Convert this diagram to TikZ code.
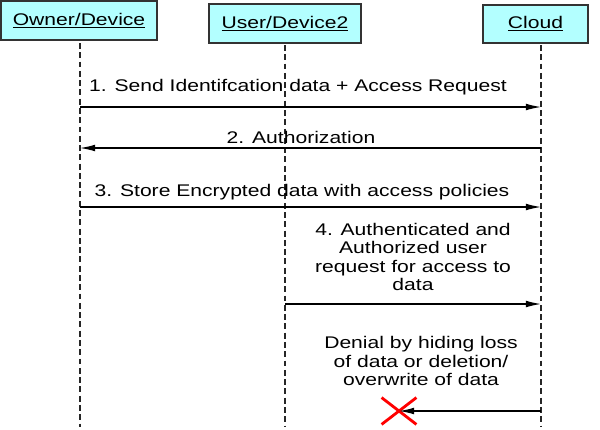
\documentclass[tikz,border=0pt]{standalone}
\usepackage{fontspec}
\setmainfont{Liberation Sans}[FakeStretch=1.25]
\usepackage[HTML]{xcolor}
\usetikzlibrary{positioning, arrows.meta, shapes.misc}
\definecolor{boxcyan}{HTML}{B3FFFF}

\begin{document}
\begin{tikzpicture}[x=0.025cm, y=-0.025cm,
  actor/.style={draw=black!80, fill=boxcyan, line width=1.4pt, minimum height=0.97cm, inner sep=0pt, font=\fontsize{12}{13}\selectfont},
  lifeline/.style={line width=1.8pt, black!85, dash pattern=on 4.2pt off 2.4pt},
  msg/.style={line width=0.9pt, -{Latex[length=0.38cm, width=0.17cm]}},
  lbl/.style={font=\fontsize{12}{13}\selectfont, align=center, inner sep=0pt}]
\useasboundingbox (0,0) rectangle (600,429);
% actors
\node[actor, minimum width=3.9cm] (owner) at (79,20.5) {\underline{Owner/Device}};
\node[actor, minimum width=3.8cm] (user) at (285,23.5) {\underline{User/Device2}};
\node[actor, minimum width=2.62cm] (cloud) at (535.5,24) {\underline{Cloud}};
% lifelines
\coordinate (ownerTop) at (80,43);
\coordinate (ownerEnd) at (80,427);
\coordinate (userTop) at (285,45);
\coordinate (userEnd) at (285,427);
\coordinate (cloudTop) at (541,45);
\coordinate (cloudEnd) at (541,427);
\draw[lifeline] (ownerTop) -- (ownerEnd);
\draw[lifeline] (userTop) -- (userEnd);
\draw[lifeline] (cloudTop) -- (cloudEnd);
% message levels
\coordinate (m1) at (0,107);
\coordinate (m2) at (0,148);
\coordinate (m3) at (0,207);
\coordinate (m4) at (0,304);
\node[cross out, draw=red, line width=2pt, minimum width=0.8cm, minimum height=0.6cm, inner sep=0pt] (lost) at (399,411) {};
% messages
\draw[msg] (ownerTop |- m1) -- (cloudTop |- m1);
\draw[msg] (cloudTop |- m2) -- (ownerTop |- m2);
\draw[msg] (ownerTop |- m3) -- (cloudTop |- m3);
\draw[msg] (userTop |- m4) -- (cloudTop |- m4);
\draw[msg] (cloudTop |- lost) -- (lost.center);
% labels
\node[lbl] (l1) at (298,87) {1. Send Identifcation data + Access Request};
\node[lbl] (l2) at (301,137) {2. Authorization};
\node[lbl] (l3) at (302,192) {3. Store Encrypted data with access policies};
\node[lbl] (l4) at (413,257) {4. Authenticated and\\Authorized user\\request for access to\\data};
\node[lbl] (l5) at (421,361) {Denial by hiding loss\\of data or deletion/\\overwrite of data};
\end{tikzpicture}
\end{document}
